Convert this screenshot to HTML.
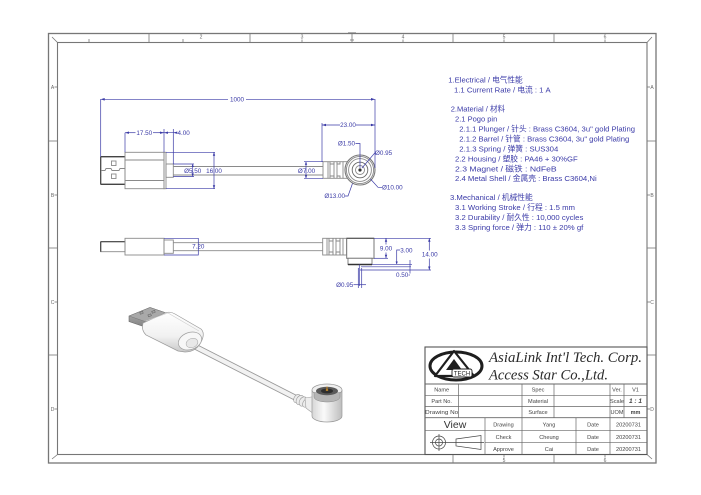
<!DOCTYPE html>
<html><head><meta charset="utf-8"><style>
html,body{margin:0;padding:0;background:#fff;}
svg{display:block;}
.g{fill:none;stroke:#8a8a8a;stroke-width:0.9;}
.gd{fill:none;stroke:#555;stroke-width:1.2;}
.b{fill:none;stroke:#3a3aa6;stroke-width:0.7;}
.bt{font-family:"Liberation Sans",sans-serif;font-size:6.3px;fill:#3a3aa6;}
.sp{font-family:"Liberation Sans","Noto Sans CJK SC",sans-serif;font-size:7.7px;fill:#3b3ba8;}
.zl{font-family:"Liberation Sans",sans-serif;font-size:5px;fill:#666;}
.tb{font-family:"Liberation Sans",sans-serif;font-size:5.6px;fill:#444;}
.tl{fill:none;stroke:#666;stroke-width:0.7;}
</style></head><body>
<svg width="701" height="495" viewBox="0 0 701 495" xmlns="http://www.w3.org/2000/svg">
<defs>
<linearGradient id="met" x1="0" y1="0" x2="0" y2="1"><stop offset="0" stop-color="#b9b9b9"/><stop offset="1" stop-color="#7c7c7c"/></linearGradient>
<linearGradient id="wht" x1="0" y1="0" x2="0" y2="1"><stop offset="0" stop-color="#ffffff"/><stop offset="0.6" stop-color="#f1f1f1"/><stop offset="1" stop-color="#c9c9c9"/></linearGradient>
<linearGradient id="cyl" x1="0" y1="0" x2="1" y2="0"><stop offset="0" stop-color="#d6d6d6"/><stop offset="0.4" stop-color="#fafafa"/><stop offset="1" stop-color="#bdbdbd"/></linearGradient>
</defs>
<rect width="701" height="495" fill="#fff"/>

<!-- border -->
<rect x="48.5" y="33.5" width="607.5" height="429.5" fill="none" stroke="#777" stroke-width="1.3"/>
<rect x="57.5" y="42.5" width="589.5" height="412" fill="none" stroke="#777" stroke-width="1.1"/>
<g stroke="#777" stroke-width="0.8">
<line x1="52" y1="37" x2="57.5" y2="42.5"/><line x1="652" y1="37" x2="647" y2="42.5"/>
<line x1="52" y1="459" x2="57.5" y2="454.5"/><line x1="652" y1="459" x2="647" y2="454.5"/>
<!-- top ticks -->
<line x1="149" y1="33.5" x2="149" y2="42.5"/><line x1="250" y1="33.5" x2="250" y2="42.5"/>
<line x1="453" y1="33.5" x2="453" y2="42.5"/><line x1="554" y1="33.5" x2="554" y2="42.5"/>
<line x1="89" y1="39" x2="89" y2="42.5"/><line x1="183" y1="39" x2="183" y2="42.5"/>
<line x1="302" y1="39.5" x2="302" y2="42.5"/><line x1="403" y1="39.5" x2="403" y2="42.5"/>
<line x1="504" y1="39.5" x2="504" y2="42.5"/><line x1="605" y1="39.5" x2="605" y2="42.5"/>
<line x1="348" y1="33" x2="356" y2="33" stroke-width="1.2"/><line x1="352" y1="33" x2="352" y2="42.5"/><line x1="350" y1="40" x2="354" y2="40"/>
<!-- left ticks -->
<line x1="48.5" y1="141" x2="57.5" y2="141"/><line x1="48.5" y1="248" x2="57.5" y2="248"/><line x1="48.5" y1="355" x2="57.5" y2="355"/>
<line x1="54.5" y1="87" x2="57.5" y2="87"/><line x1="54.5" y1="195" x2="57.5" y2="195"/><line x1="54.5" y1="302" x2="57.5" y2="302"/><line x1="54.5" y1="409" x2="57.5" y2="409"/>
<!-- right ticks -->
<line x1="647" y1="141" x2="656" y2="141"/><line x1="647" y1="248" x2="656" y2="248"/><line x1="647" y1="355" x2="656" y2="355"/>
<line x1="647" y1="87" x2="650" y2="87"/><line x1="647" y1="195" x2="650" y2="195"/><line x1="647" y1="302" x2="650" y2="302"/><line x1="647" y1="409" x2="650" y2="409"/>
<!-- bottom ticks -->
<line x1="453" y1="454.5" x2="453" y2="463"/><line x1="554" y1="454.5" x2="554" y2="463"/>
<line x1="504" y1="454.5" x2="504" y2="457.5"/><line x1="605" y1="454.5" x2="605" y2="457.5"/>
</g>
<g class="zl" text-anchor="middle">
<text x="201" y="38.5">2</text><text x="302" y="38.5">3</text><text x="403" y="38.5">4</text><text x="504" y="38.5">5</text><text x="605" y="38.5">6</text>
<text x="52.5" y="89">A</text><text x="52.5" y="197">B</text><text x="52.5" y="304">C</text><text x="52.5" y="411">D</text>
<text x="652" y="89">A</text><text x="652" y="197">B</text><text x="652" y="304">C</text><text x="652" y="411">D</text>
<text x="504" y="462">5</text><text x="605" y="462">6</text>
</g>

<!-- ============ TOP VIEW ============ -->
<!-- USB metal -->
<rect x="100.7" y="156.7" width="24.3" height="27.6" class="g"/>
<line x1="100.7" y1="156.7" x2="125" y2="156.7" stroke="#444" stroke-width="1.3"/>
<line x1="100.7" y1="184.3" x2="125" y2="184.3" stroke="#444" stroke-width="1.3"/>
<line x1="100.7" y1="156.7" x2="100.7" y2="184.3" stroke="#444" stroke-width="1.2"/>
<rect x="111.5" y="161" width="4.5" height="4.5" class="g"/>
<rect x="111.5" y="174" width="4.5" height="4.5" class="g"/>
<polyline points="101,170.5 105,170.5 106,168.5 111,168.5 112,170.5 119,170.5 120,168.5 125,168.5" class="g"/>
<!-- housing -->
<rect x="125" y="152.3" width="39" height="36.4" class="g"/>
<line x1="125" y1="160" x2="164" y2="160" class="g"/>
<line x1="125" y1="180.5" x2="164" y2="180.5" class="g"/>
<rect x="164" y="152.3" width="2" height="36.4" class="g"/>
<rect x="166" y="164" width="7.3" height="13.3" class="g"/>
<!-- cable -->
<line x1="173.3" y1="166.5" x2="323" y2="166.5" class="g"/>
<line x1="173.3" y1="175" x2="323" y2="175" class="g"/>
<!-- connector strain relief -->
<rect x="323" y="161.7" width="20" height="16.6" class="g"/>
<g class="g">
<line x1="328" y1="161.7" x2="328" y2="178.3"/><line x1="330" y1="161.7" x2="330" y2="178.3"/>
<line x1="334" y1="161.7" x2="334" y2="178.3"/><line x1="337" y1="161.7" x2="337" y2="178.3"/>
<polyline points="330,161.7 330,164 334,164 334,161.7"/><polyline points="330,178.3 330,176 334,176 334,178.3"/>
<polyline points="337,161.7 337,164 340,164 340,161.7"/><polyline points="337,178.3 337,176 340,176 340,178.3"/>
<line x1="343" y1="161.7" x2="347" y2="161.7"/><line x1="343" y1="178.3" x2="347" y2="178.3"/>
</g>
<!-- round head -->
<circle cx="360" cy="170" r="15" fill="#fff" stroke="#777" stroke-width="1.1"/>
<circle cx="360" cy="170" r="13.6" class="g"/>
<circle cx="360" cy="170" r="11.4" class="g"/>
<circle cx="360" cy="170" r="7.8" fill="none" stroke="#666" stroke-width="0.9"/>
<circle cx="360" cy="170" r="4.5" class="g"/>
<circle cx="360" cy="170" r="1.6" fill="#333"/>
<!-- top view dimensions -->
<g class="b">
<polyline points="100.7,156.7 100.7,99.3 228,99.3"/><polyline points="246,99.3 375,99.3 375,168"/>
<line x1="125" y1="132.7" x2="125" y2="152.3"/><line x1="164" y1="129" x2="164" y2="152.3"/>
<line x1="125" y1="132.7" x2="135.5" y2="132.7"/><line x1="153" y1="132.7" x2="164" y2="132.7"/>
<line x1="159" y1="132.7" x2="176" y2="132.7"/><line x1="173.3" y1="129" x2="173.3" y2="164"/>
<line x1="173.3" y1="164" x2="194" y2="164"/><line x1="173.3" y1="176.5" x2="194" y2="176.5"/>
<line x1="192.7" y1="164" x2="192.7" y2="176.5"/>
<line x1="166" y1="152.3" x2="215" y2="152.3"/><line x1="166" y1="188.7" x2="215" y2="188.7"/>
<line x1="214" y1="152.3" x2="214" y2="188.7"/>
<line x1="304" y1="161.7" x2="323" y2="161.7"/><line x1="304" y1="178.3" x2="323" y2="178.3"/>
<line x1="306" y1="161.7" x2="306" y2="178.3"/>
<line x1="322" y1="125" x2="340" y2="125"/><line x1="356" y1="125" x2="375" y2="125"/>
<line x1="322" y1="123" x2="322" y2="161.7"/>
<polyline points="355.5,143.5 360,143.5 360,168"/>
<line x1="375" y1="152.7" x2="362" y2="168"/>
<polyline points="382,187.3 378,187.3 370.5,179"/>
<polyline points="345,196 348,196 352.5,183.5"/>
</g>
<g fill="#3a3aa6">
<path d="M100.7,99.3 l4,-1.3 v2.6z"/><path d="M375,99.3 l-4,-1.3 v2.6z"/>
<path d="M125,132.7 l4,-1.2 v2.4z"/><path d="M164,132.7 l-4,-1.2 v2.4z"/>
<path d="M164,132.7 l4,-1.2 v2.4z"/><path d="M173.3,132.7 l4,-1.2 v2.4z"/>
<path d="M322,125 l4,-1.2 v2.4z"/><path d="M375,125 l-4,-1.2 v2.4z"/>
<path d="M192.7,164 l-1.2,3 h2.4z"/><path d="M192.7,176.5 l-1.2,-3 h2.4z"/>
<path d="M214,152.3 l-1.2,3.5 h2.4z"/><path d="M214,188.7 l-1.2,-3.5 h2.4z"/>
<path d="M306,161.7 l-1.2,3 h2.4z"/><path d="M306,178.3 l-1.2,-3 h2.4z"/>
</g>
<g class="bt">
<text x="237" y="101.5" text-anchor="middle">1000</text>
<text x="144.3" y="134.8" text-anchor="middle">17.50</text>
<text x="177.5" y="134.8">4.00</text>
<text x="192.7" y="173" text-anchor="middle">Ø5.50</text>
<text x="214" y="173" text-anchor="middle">16.00</text>
<text x="306.5" y="173" text-anchor="middle">Ø7.00</text>
<text x="348" y="127.2" text-anchor="middle">23.00</text>
<text x="355" y="145.6" text-anchor="end">Ø1.50</text>
<text x="375" y="155">Ø0.95</text>
<text x="382" y="189.5">Ø10.00</text>
<text x="345" y="198.2" text-anchor="end">Ø13.00</text>
</g>

<!-- ============ SIDE VIEW ============ -->
<rect x="100.7" y="241.7" width="24.3" height="10" class="g"/>
<line x1="100.7" y1="241.7" x2="125" y2="241.7" stroke="#444" stroke-width="1.2"/>
<line x1="100.7" y1="241.7" x2="100.7" y2="251.7" stroke="#444" stroke-width="1.2"/>
<rect x="125" y="238.3" width="39" height="16.7" class="g"/>
<rect x="164" y="240" width="9.3" height="13.3" class="g"/>
<line x1="173.3" y1="242.7" x2="322.7" y2="242.7" class="g"/>
<line x1="173.3" y1="250.7" x2="322.7" y2="250.7" class="g"/>
<g class="b"><polyline points="164,238.3 198.3,238.3 198.3,255 164,255"/></g>
<text x="198.3" y="248.5" text-anchor="middle" class="bt">7.20</text>
<!-- side connector -->
<rect x="322.7" y="238.3" width="24" height="16.7" class="g"/>
<g class="g">
<line x1="327" y1="238.3" x2="327" y2="255"/><line x1="329" y1="238.3" x2="329" y2="255"/>
<line x1="333" y1="238.3" x2="333" y2="255"/><line x1="336" y1="238.3" x2="336" y2="255"/>
<line x1="340" y1="238.3" x2="340" y2="255"/><line x1="343" y1="238.3" x2="343" y2="255"/>
<polyline points="329,238.3 329,241 333,241 333,238.3"/><polyline points="329,255 329,252 333,252 333,255"/>
<polyline points="336,238.3 336,241 340,241 340,238.3"/><polyline points="336,255 336,252 340,252 340,255"/>
</g>
<rect x="346.7" y="238.3" width="27.3" height="20" fill="#fff" stroke="#777" stroke-width="1"/>
<line x1="346.7" y1="238.3" x2="374" y2="238.3" stroke="#555" stroke-width="1.1"/>
<rect x="348" y="258.3" width="24" height="6.2" fill="#fff" stroke="#777" stroke-width="0.9"/>
<line x1="348" y1="264.5" x2="372" y2="264.5" stroke="#333" stroke-width="1.6"/>
<g class="b">
<line x1="374" y1="238.3" x2="431" y2="238.3"/>
<line x1="386" y1="238.3" x2="386" y2="244.5"/><line x1="386" y1="252.5" x2="386" y2="258.3"/>
<line x1="374" y1="258.3" x2="388" y2="258.3"/>
<line x1="429.3" y1="238.3" x2="429.3" y2="250.5"/><line x1="429.3" y1="258.5" x2="429.3" y2="270"/>
<line x1="360" y1="270" x2="431" y2="270"/>
<polyline points="400,250 396.7,250 396.7,264.5"/>
<line x1="372" y1="264.3" x2="412" y2="264.3"/>
<line x1="361" y1="266.8" x2="411" y2="266.8"/>
<line x1="410" y1="260" x2="410" y2="273.5"/>
<polyline points="408.5,275 410,275"/>
<line x1="359.3" y1="264.5" x2="359.3" y2="286"/>
<line x1="358.3" y1="268" x2="358.3" y2="288"/><line x1="361.7" y1="268" x2="361.7" y2="288"/>
<line x1="353.5" y1="284.7" x2="366" y2="284.7"/>
</g>
<g fill="#3a3aa6">
<path d="M386,238.3 l-1.2,3.5 h2.4z"/><path d="M386,258.3 l-1.2,-3.5 h2.4z"/>
<path d="M429.3,238.3 l-1.2,3.5 h2.4z"/><path d="M429.3,270 l-1.2,-3.5 h2.4z"/>
<path d="M396.7,264.5 l-1.1,-3 h2.2z"/>
</g>
<g class="bt">
<text x="386" y="250.6" text-anchor="middle">9.00</text>
<text x="400.3" y="252.5">3.00</text>
<text x="429.8" y="256.6" text-anchor="middle">14.00</text>
<text x="408.3" y="277.2" text-anchor="end">0.50</text>
<text x="353.3" y="287" text-anchor="end">Ø0.95</text>
</g>

<!-- ============ 3D RENDER ============ -->
<!-- cable -->
<line x1="192" y1="345" x2="298" y2="399" stroke="#9a9a9a" stroke-width="6" stroke-linecap="round"/>
<line x1="192" y1="345" x2="298" y2="399" stroke="#f2f2f2" stroke-width="4.2" stroke-linecap="round"/>
<!-- usb metal -->
<polygon points="129,316 150,307.5 172,315 172,320 151,329 129,321.5" fill="url(#met)" stroke="#6d6d6d" stroke-width="0.6"/>
<polygon points="129,316 150,307.5 172,315 151,323.5" fill="#a9a9a9" stroke="#777" stroke-width="0.5"/>
<g fill="none" stroke="#666" stroke-width="0.6">
<rect x="140" y="312" width="3" height="2" transform="rotate(-20 141 313)"/>
<rect x="148" y="314.5" width="3" height="2" transform="rotate(-20 149 315)"/>
<rect x="152" y="311" width="3" height="2" transform="rotate(-20 153 312)"/>
</g>
<!-- housing -->
<path d="M143,323 L165,313 Q170,311 175,314 L201,329 Q205,333 202,340 Q197,352 185,352 L178,351 L146,335 Q141,330 143,323 Z" fill="url(#wht)" stroke="#9b9b9b" stroke-width="0.7"/>
<path d="M146,321 L168,313 L199,331" fill="none" stroke="#d0d0d0" stroke-width="0.6"/>
<ellipse cx="190" cy="341" rx="12" ry="8.5" transform="rotate(-20 190 341)" fill="#f7f7f7" stroke="#a0a0a0" stroke-width="0.7"/>
<ellipse cx="192" cy="343" rx="6" ry="4.5" transform="rotate(-20 192 343)" fill="#e8e8e8" stroke="#b0b0b0" stroke-width="0.6"/>
<!-- connector strain relief -->
<g stroke="#9a9a9a" stroke-width="0.6" fill="#ececec">
<ellipse cx="297" cy="398.5" rx="3" ry="4.5" transform="rotate(30 297 398.5)"/>
<ellipse cx="300" cy="400" rx="3.5" ry="5" transform="rotate(30 300 400)"/>
<ellipse cx="303" cy="401.5" rx="3.5" ry="5" transform="rotate(30 303 401.5)"/>
<ellipse cx="306" cy="403" rx="3" ry="4.5" transform="rotate(30 306 403)"/>
</g>
<path d="M305,398 L318,396 L318,416 Q312,413 306,408 Z" fill="#eeeeee" stroke="#a0a0a0" stroke-width="0.6"/>
<!-- connector head -->
<path d="M312,390 L312,416 A15,6 0 0 0 342,416 L342,390 Z" fill="url(#cyl)" stroke="#9a9a9a" stroke-width="0.7"/>
<ellipse cx="327" cy="390" rx="15" ry="6" fill="#efefef" stroke="#9a9a9a" stroke-width="0.7"/>
<path d="M314,392 L314,397 A13,5 0 0 0 340,397 L340,392" fill="#b5b5b5" stroke="#8a8a8a" stroke-width="0.5"/>
<ellipse cx="327" cy="391" rx="11" ry="4.2" fill="#5a5a5a"/>
<ellipse cx="327" cy="391" rx="6" ry="2.4" fill="#2e2e2e"/>
<ellipse cx="327" cy="390" rx="1.3" ry="0.8" fill="#e6a02a"/>
<line x1="327" y1="386.5" x2="327" y2="390" stroke="#d98e1c" stroke-width="0.9"/>

<!-- ============ SPEC TEXT ============ -->
<g class="sp" lengthAdjust="spacingAndGlyphs">
<text x="448.3" y="82.5" textLength="74.4" lengthAdjust="spacingAndGlyphs">1.Electrical / 电气性能</text>
<text x="454" y="92.5" textLength="96.7" lengthAdjust="spacingAndGlyphs">1.1 Current Rate / 电流 : 1 A</text>
<text x="450.7" y="111.6" textLength="54.3" lengthAdjust="spacingAndGlyphs">2.Material / 材料</text>
<text x="455" y="121.5" textLength="42.3" lengthAdjust="spacingAndGlyphs">2.1 Pogo pin</text>
<text x="459.3" y="131.5" textLength="175.7" lengthAdjust="spacingAndGlyphs">2.1.1 Plunger / 针头 : Brass C3604, 3u" gold Plating</text>
<text x="459.3" y="141.5" textLength="170" lengthAdjust="spacingAndGlyphs">2.1.2 Barrel / 针管 : Brass C3604, 3u" gold Plating</text>
<text x="459.3" y="151.5" textLength="99" lengthAdjust="spacingAndGlyphs">2.1.3 Spring / 弹簧 : SUS304</text>
<text x="455" y="161.4" textLength="122.7" lengthAdjust="spacingAndGlyphs">2.2 Housing / 塑胶 : PA46 + 30%GF</text>
<text x="455" y="171.3" textLength="101.7" lengthAdjust="spacingAndGlyphs">2.3 Magnet / 磁铁 : NdFeB</text>
<text x="455" y="181.1" textLength="141.7" lengthAdjust="spacingAndGlyphs">2.4 Metal Shell / 金属壳 : Brass C3604,Ni</text>
<text x="450" y="200" textLength="82.7" lengthAdjust="spacingAndGlyphs">3.Mechanical / 机械性能</text>
<text x="455" y="210" textLength="120" lengthAdjust="spacingAndGlyphs">3.1 Working Stroke / 行程 : 1.5 mm</text>
<text x="455" y="220" textLength="128.3" lengthAdjust="spacingAndGlyphs">3.2 Durability / 耐久性 : 10,000 cycles</text>
<text x="455" y="230" textLength="128.3" lengthAdjust="spacingAndGlyphs">3.3 Spring force / 弹力 : 110 ± 20% gf</text>
</g>

<!-- ============ TITLE BLOCK ============ -->
<rect x="425" y="347" width="222" height="107.5" fill="#fff" stroke="#555" stroke-width="1.1"/>
<g class="tl">
<line x1="425" y1="384" x2="647" y2="384" stroke-width="0.9"/>
<line x1="425" y1="395.3" x2="647" y2="395.3"/>
<line x1="425" y1="406.5" x2="647" y2="406.5"/>
<line x1="425" y1="417.7" x2="647" y2="417.7" stroke-width="0.9"/>
<line x1="425" y1="430.3" x2="647" y2="430.3"/>
<line x1="485" y1="442.3" x2="647" y2="442.3"/>
<line x1="458.5" y1="384" x2="458.5" y2="417.7"/>
<line x1="522" y1="384" x2="522" y2="454.5"/>
<line x1="554" y1="384" x2="554" y2="417.7"/>
<line x1="610" y1="384" x2="610" y2="454.5"/>
<line x1="624" y1="384" x2="624" y2="417.7"/>
<line x1="485" y1="417.7" x2="485" y2="454.5"/>
<line x1="576" y1="417.7" x2="576" y2="454.5"/>
</g>
<!-- logo -->
<ellipse cx="456" cy="366" rx="26" ry="14" fill="#fff" stroke="#1e1e1e" stroke-width="3"/>
<polygon points="454,351 435,376 474,376" fill="#fff" stroke="#1e1e1e" stroke-width="2.2" stroke-linejoin="round"/>
<polygon points="454,359 446,370 462,370" fill="#1e1e1e"/>
<rect x="452" y="369" width="20" height="8" rx="2" fill="#fff" stroke="#1e1e1e" stroke-width="0.9"/>
<text x="462" y="375.5" text-anchor="middle" font-family="Liberation Sans,sans-serif" font-size="6px" fill="#1e1e1e">TECH</text>
<text x="489" y="362" font-family="Liberation Serif,serif" font-style="italic" font-size="15px" fill="#2a2a2a" textLength="153" lengthAdjust="spacingAndGlyphs">AsiaLink Int'l Tech. Corp.</text>
<text x="489" y="379.5" font-family="Liberation Serif,serif" font-style="italic" font-size="15px" fill="#2a2a2a" textLength="119" lengthAdjust="spacingAndGlyphs">Access Star Co.,Ltd.</text>
<!-- table text -->
<g class="tb" text-anchor="middle">
<text x="441.7" y="391.6">Name</text>
<text x="441.7" y="402.8">Part No.</text>
<text x="441.7" y="414" textLength="33" lengthAdjust="spacingAndGlyphs">Drawing No</text>
<text x="538" y="391.6">Spec</text>
<text x="538" y="402.8">Material</text>
<text x="538" y="414">Surface</text>
<text x="617" y="391.6">Ver.</text>
<text x="617" y="402.8">Scale</text>
<text x="617" y="414">UOM</text>
<text x="635.5" y="391.6">V1</text>
<text x="635.5" y="402.8" font-weight="bold" font-style="italic" font-size="6.5px">1 : 1</text>
<text x="635.5" y="414" font-weight="bold" font-size="5.5px">mm</text>
<text x="455" y="428" font-size="10.5px" fill="#333">View</text>
<text x="503.5" y="426.5">Drawing</text>
<text x="503.5" y="438.8">Check</text>
<text x="503.5" y="450.8">Approve</text>
<text x="549" y="426.5">Yang</text>
<text x="549" y="438.8">Cheung</text>
<text x="549" y="450.8">Cai</text>
<text x="593" y="426.5">Date</text>
<text x="593" y="438.8">Date</text>
<text x="593" y="450.8">Date</text>
<text x="628.5" y="426.5">20200731</text>
<text x="628.5" y="438.8">20200731</text>
<text x="628.5" y="450.8">20200731</text>
</g>
<!-- projection symbol -->
<g fill="none" stroke="#444" stroke-width="0.7">
<circle cx="439" cy="442.5" r="6.5"/><circle cx="439" cy="442.5" r="3.5"/>
<line x1="430" y1="442.5" x2="448" y2="442.5"/><line x1="439" y1="434" x2="439" y2="451"/>
<polygon points="456,439 481,435.5 481,449.5 456,446"/>
<line x1="448" y1="442.5" x2="484" y2="442.5"/>
</g>
</svg>
</body></html>
